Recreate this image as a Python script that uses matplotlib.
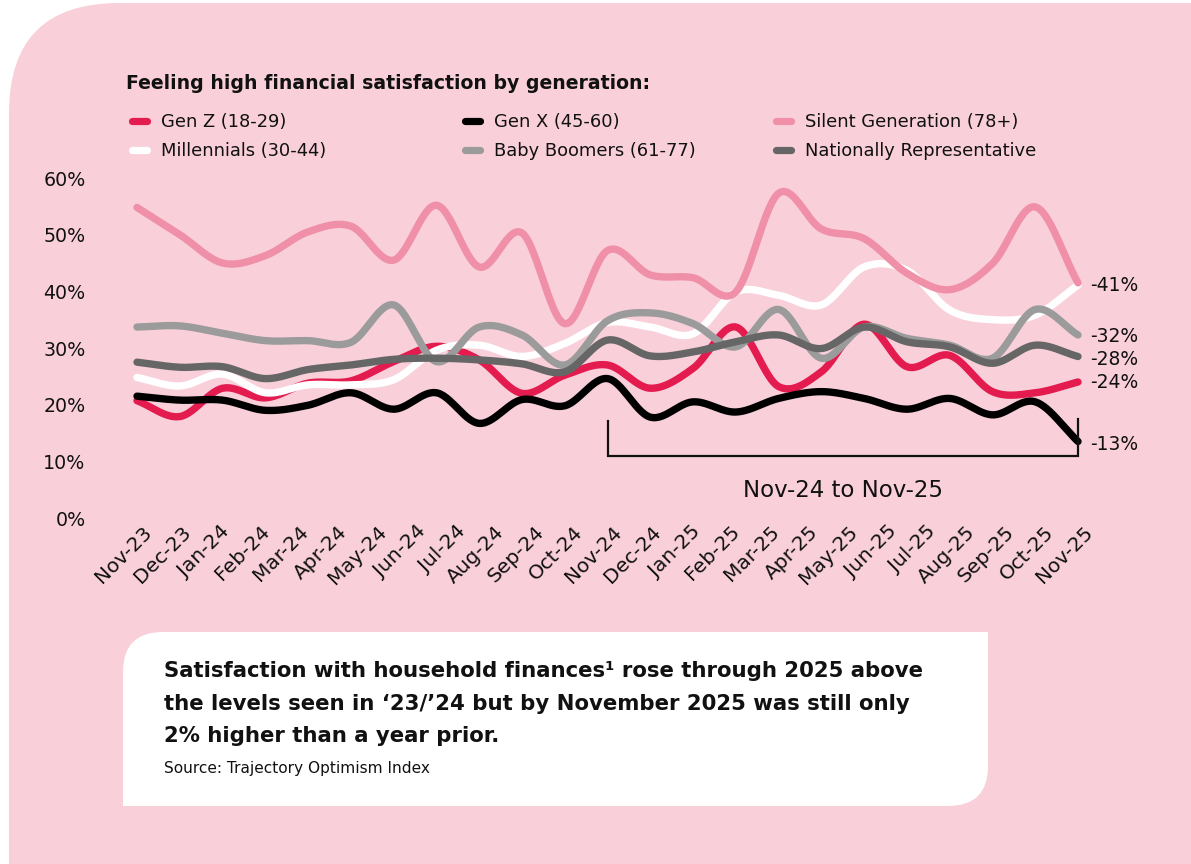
import numpy as np
import matplotlib
matplotlib.use("Agg")
import matplotlib.pyplot as plt
from matplotlib.patches import FancyBboxPatch, Rectangle
import matplotlib.transforms as mtransforms

plt.rcParams['font.family'] = ['DejaVu Sans']

# ---------------- data ----------------
months = ["Nov-23", "Dec-23", "Jan-24", "Feb-24", "Mar-24", "Apr-24", "May-24",
          "Jun-24", "Jul-24", "Aug-24", "Sep-24", "Oct-24", "Nov-24", "Dec-24",
          "Jan-25", "Feb-25", "Mar-25", "Apr-25", "May-25", "Jun-25", "Jul-25",
          "Aug-25", "Sep-25", "Oct-25", "Nov-25"]

gen_z = [20.7, 17.9, 22.9, 21.2, 23.8, 24.2, 27.6, 30.3, 27.9, 22.0, 25.2, 27.0,
         22.9, 26.4, 33.7, 23.2, 25.8, 34.2, 26.7, 28.7, 22.3, 22.1, 24.0]
millennials = [24.8, 23.3, 25.4, 22.1, 23.5, 23.5, 24.4, 29.6, 30.5, 28.5, 30.8, 34.5,
               33.7, 32.5, 39.9, 39.3, 37.6, 44.3, 43.7, 36.7, 35.0, 35.8, 41.1]
gen_x = [21.5, 20.8, 20.8, 19.0, 19.9, 22.1, 19.2, 22.1, 16.7, 20.9, 19.8, 24.6,
         17.8, 20.5, 18.7, 21.1, 22.3, 21.1, 19.2, 21.1, 18.2, 20.5, 13.5]
baby_boomers = [33.7, 33.9, 32.6, 31.3, 31.3, 31.0, 37.6, 27.6, 33.7, 32.3, 27.0, 34.8,
                36.2, 34.3, 30.2, 36.8, 28.2, 33.7, 31.7, 30.5, 28.2, 36.8, 32.3]
silent_gen = [54.8, 50.0, 45.0, 46.3, 50.5, 51.5, 45.5, 55.2, 44.3, 50.3, 34.3, 47.2,
              42.9, 42.4, 39.9, 57.3, 51.0, 49.3, 43.2, 40.3, 44.9, 54.9, 41.5]
national = [27.5, 26.6, 26.7, 24.6, 26.2, 27.0, 28.0, 28.2, 27.9, 27.2, 25.8, 31.4,
            28.6, 29.3, 31.1, 32.3, 29.9, 33.7, 31.1, 30.2, 27.3, 30.5, 28.5]

series_names = ["Gen Z (18-29)", "Millennials (30-44)", "Gen X (45-60)",
                "Baby Boomers (61-77)", "Silent Generation (78+)", "Nationally Representative"]
series_values = [gen_z, millennials, gen_x, baby_boomers, silent_gen, national]
series_colors = ["#E31B4E", "#FFFFFF", "#000000", "#9B9B9B", "#F08FA8", "#666666"]

end_label_values = [41, 32, 28, 24, 13]
end_label_series = [4, 3, 5, 0, 2]

bracket_start = "Nov-24"
bracket_end = "Nov-25"

# ---------------- helpers ----------------
def smooth(x, y, n=30):
    x = np.asarray(x, float)
    y = np.asarray(y, float)
    m = np.empty_like(y)
    m[1:-1] = (y[2:] - y[:-2]) / 2.0
    m[0] = y[1] - y[0]
    m[-1] = y[-1] - y[-2]
    t = np.linspace(0, 1, n, endpoint=False)
    h00 = 2 * t**3 - 3 * t**2 + 1
    h10 = t**3 - 2 * t**2 + t
    h01 = -2 * t**3 + 3 * t**2
    h11 = t**3 - t**2
    xs, ys = [], []
    for i in range(len(y) - 1):
        ys.append(h00 * y[i] + h10 * m[i] + h01 * y[i + 1] + h11 * m[i + 1])
        xs.append(x[i] + t * (x[i + 1] - x[i]))
    xs.append([x[-1]])
    ys.append([y[-1]])
    return np.concatenate(xs), np.concatenate(ys)

# ---------------- figure ----------------
W, H = 1191, 864
fig = plt.figure(figsize=(W / 100, H / 100), dpi=100)
fig.patch.set_facecolor("white")

bg = fig.add_axes([0, 0, 1, 1], zorder=0)
bg.set_xlim(0, W)
bg.set_ylim(H, 0)
bg.axis("off")

pink = "#F9D0DA"
bg.add_patch(FancyBboxPatch((9, 3), 1500, 1200,
                            boxstyle="round,pad=0,rounding_size=110",
                            fc=pink, ec="none"))
# white note box (rounded top-left & bottom-right)
bg.add_patch(FancyBboxPatch((123, 632), 865, 174,
                            boxstyle="round,pad=0,rounding_size=40",
                            fc="white", ec="none"))
bg.add_patch(Rectangle((938, 632), 50, 50, fc="white", ec="none"))
bg.add_patch(Rectangle((123, 756), 50, 50, fc="white", ec="none"))

# title & legend
bg.text(126, 89, "Feeling high financial satisfaction by generation:",
        fontsize=13.6, fontweight="bold", va="baseline", ha="left", color="#111111")

leg_cols_x = [128, 461, 772]
leg_rows_y = [121, 149.5]
for k, (name, col) in enumerate(zip(series_names, series_colors)):
    c = k // 2
    r = k % 2
    x0 = leg_cols_x[c]
    y0 = leg_rows_y[r]
    bg.plot([x0 + 4, x0 + 19], [y0, y0], color=col, lw=5.2,
            solid_capstyle="round")
    bg.text(x0 + 33, y0 + 6, name, fontsize=12.9, va="baseline", ha="left",
            color="#111111")

# note text
bg.text(164, 677, "Satisfaction with household finances\u00b9 rose through 2025 above",
        fontsize=15.3, fontweight="bold", va="baseline", ha="left", color="#111111")
bg.text(164, 710.5, "the levels seen in \u201823/\u201924 but by November 2025 was still only",
        fontsize=15.3, fontweight="bold", va="baseline", ha="left", color="#111111")
bg.text(164, 742.5, "2% higher than a year prior.",
        fontsize=15.3, fontweight="bold", va="baseline", ha="left", color="#111111")
bg.text(164, 772.5, "Source: Trajectory Optimism Index",
        fontsize=11.1, va="baseline", ha="left", color="#111111")

# ---------------- main chart ----------------
left_px, right_px, top_px, bottom_px = 137, 1078, 178, 518
ax = fig.add_axes([left_px / W, 1 - bottom_px / H,
                   (right_px - left_px) / W, (bottom_px - top_px) / H], zorder=2)
ax.patch.set_alpha(0)
for s in ax.spines.values():
    s.set_visible(False)

n_months = len(months)
x_data = np.linspace(0, n_months - 1, len(gen_z))

for k, (vals, col) in enumerate(zip(series_values, series_colors)):
    xs, ys = smooth(x_data, vals)
    ax.plot(xs, ys, color=col, lw=5.3, solid_capstyle="round",
            clip_on=False, zorder=3 + k)

ax.set_xlim(0, n_months - 1)
ax.set_ylim(0, 60)
ax.set_yticks(range(0, 61, 10))
ax.set_yticklabels([f"{v}%" for v in range(0, 61, 10)], fontsize=13.7, color="#111111")
ax.set_xticks(range(n_months))
ax.set_xticklabels(months, rotation=45, ha="right", rotation_mode="anchor",
                   fontsize=14.5, color="#111111")
ax.tick_params(axis="y", length=0, pad=37)
ax.tick_params(axis="x", length=0, pad=3)
offset = mtransforms.ScaledTranslation(0.05, 0, fig.dpi_scale_trans)
for lbl in ax.get_xticklabels():
    lbl.set_transform(lbl.get_transform() + offset)

# end labels
for val, si in zip(end_label_values, end_label_series):
    ax.annotate(f"-{val}%", xy=(x_data[-1], val), xytext=(9, 0),
                textcoords="offset points", va="center", ha="left",
                fontsize=13.5, color="#111111", annotation_clip=False)

# bracket
i0 = months.index(bracket_start)
i1 = months.index(bracket_end)
ax.plot([i0, i0, i1, i1], [17.2, 10.9, 10.9, 17.4], color="#111111", lw=1.6,
        clip_on=False, zorder=10, solid_joinstyle="miter")
ax.text((i0 + i1) / 2, 4.9, f"{bracket_start} to {bracket_end}", ha="center",
        va="center", fontsize=16.5, color="#111111")

fig.savefig("out.png", dpi=100, facecolor=fig.get_facecolor())
